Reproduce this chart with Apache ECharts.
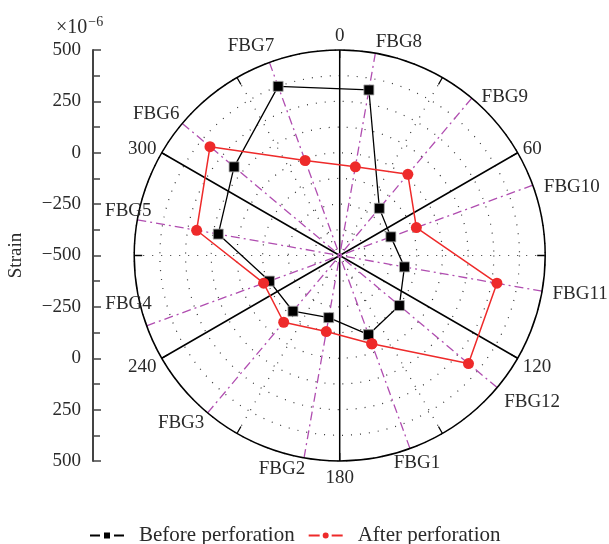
<!DOCTYPE html>
<html>
<head>
<meta charset="utf-8">
<script src="https://cdn.jsdelivr.net/npm/echarts@6/dist/echarts.min.js"></script>
<style>html,body{margin:0;padding:0;background:#fff}#c{width:609px;height:544px}</style>
</head>
<body>
<div id="c"></div>
<script>
// ---- data ----
var categories = ['FBG1','FBG2','FBG3','FBG4','FBG5','FBG6','FBG7','FBG8','FBG9','FBG10','FBG11','FBG12'];
var fbgAngles  = [160, 190, 220, 250, 280, 310, 340, 10, 40, 70, 100, 130];
var beforeValues = [-90, -193, -146, -136, 100, 171, 376, 318, -200, -235, -180, -121];
var afterValues  = [-43, -124, -76, -106, 207, 324, -8, -62, 16, -103, 277, 318];
var strainTicks = [-1000, -750, -500, -250, 0, 250, 500, 750, 1000];
var angleTicks = [0, 60, 120, 180, 240, 300];
var radiusRange = [-500, 500];

// ---- layout / style (not data) ----
var FONT = 'Liberation Serif';
var TXT = '#2a2a2a';
var CX = 339.7, CY = 255.5, R = 205.5;
// FBG label offsets [dx, dy] from the point where each FBG line meets the rim
var fbgLabelOffset = {
  FBG1: [7, 14.5], FBG2: [-22, 11], FBG3: [-26.5, 10], FBG4: [-18, -22], FBG5: [-9, -9], FBG6: [-26, -9.5],
  FBG7: [-18.5, -16.5], FBG8: [23.5, -11], FBG9: [33, -1], FBG10: [39, 2], FBG11: [38, 3], FBG12: [35, 14.5]
};
// per-angle-label line heights (to mimic the reference's label placement)
var angleLabelStyle = {0: 'n', 60: 'u', 300: 'u', 120: 'd', 240: 'd', 180: 'b'};

function polarData(vals) {
  var d = vals.map(function (v, i) { return [v, fbgAngles[i]]; });
  d.push([vals[0], fbgAngles[0]]);
  return d;
}
function fmtStrain(v) {
  var s = Math.abs(v) - 500;
  return s < 0 ? '\u2212' + Math.abs(s) : String(s);
}
var rimLabels = categories.map(function (name, i) {
  return {
    name: name,
    value: [radiusRange[1], fbgAngles[i]],
    label: {offset: fbgLabelOffset[name]}
  };
});
var angleRich = {
  n: {fontFamily: FONT, fontSize: 19, color: TXT, lineHeight: 16},
  u: {fontFamily: FONT, fontSize: 19, color: TXT, lineHeight: 2},
  d: {fontFamily: FONT, fontSize: 19, color: TXT, lineHeight: 12},
  b: {fontFamily: FONT, fontSize: 19, color: TXT, lineHeight: 22}
};

var chart = echarts.init(document.getElementById('c'), null, {renderer: 'canvas'});
chart.setOption({
  animation: false,
  backgroundColor: '#fff',
  title: {
    text: '{a|\u00d710}{b|\u22126}',
    left: 51, top: 10,
    textStyle: {
      fontWeight: 'normal',
      rich: {
        a: {fontFamily: FONT, fontSize: 20, color: TXT, fontWeight: 'normal'},
        b: {fontFamily: FONT, fontSize: 14, color: TXT, fontWeight: 'normal', padding: [0, 0, 11, 1]}
      }
    }
  },
  grid: {left: 93, top: 50, height: 411, width: 10},
  xAxis: {type: 'value', show: false},
  yAxis: {
    type: 'value', min: strainTicks[0], max: strainTicks[strainTicks.length - 1], interval: 250,
    axisLine: {show: true, lineStyle: {color: '#444', width: 2}},
    axisTick: {show: true, inside: true, length: 8, lineStyle: {color: '#444', width: 1.5}},
    minorTick: {show: true, splitNumber: 2, length: 7, lineStyle: {color: '#444', width: 1.5}},
    splitLine: {show: false},
    axisLabel: {formatter: fmtStrain, fontFamily: FONT, fontSize: 19, color: TXT, margin: 12},
    name: 'Strain', nameLocation: 'middle', nameGap: 67, nameRotate: 90,
    nameTextStyle: {fontFamily: FONT, fontSize: 19, color: TXT}
  },
  polar: [
    {center: [CX, CY], radius: R},
    {center: [CX, CY], radius: R}
  ],
  angleAxis: [
    {
      polarIndex: 0, type: 'value', min: 0, max: 360, interval: 60, startAngle: 90, clockwise: true,
      axisLine: {show: true, lineStyle: {color: '#000', width: 1.5}},
      axisTick: {show: true, inside: true, length: 8, lineStyle: {color: '#000', width: 1.3}},
      minorTick: {show: true, splitNumber: 2, length: 8, lineStyle: {color: '#000', width: 1.3}},
      axisLabel: {
        formatter: function (v) {
          if (angleTicks.indexOf(v) < 0) return '';
          return '{' + angleLabelStyle[v] + '|' + v + '}';
        },
        rich: angleRich,
        fontFamily: FONT, fontSize: 19, color: TXT, margin: 6
      },
      splitLine: {show: true, lineStyle: {color: '#000', width: 1.5}},
      minorSplitLine: {show: true, lineStyle: {color: '#333', width: 1.2, type: [1, 8]}}
    },
    {
      polarIndex: 1, type: 'value', min: 0, max: 360, interval: 30,
      startAngle: 90 - Math.min.apply(null, fbgAngles), clockwise: true,
      axisLine: {show: false}, axisTick: {show: false}, axisLabel: {show: false},
      splitLine: {show: true, lineStyle: {color: '#b04db0', width: 1.3, type: [9, 4, 2, 4]}}
    }
  ],
  radiusAxis: [
    {
      polarIndex: 0, type: 'value', min: radiusRange[0], max: radiusRange[1], interval: 125,
      axisLine: {show: false}, axisTick: {show: false}, axisLabel: {show: false},
      splitLine: {show: true, lineStyle: {color: '#333', width: 1.2, type: [1, 8]}}
    },
    {
      polarIndex: 1, type: 'value', min: radiusRange[0], max: radiusRange[1],
      axisLine: {show: false}, axisTick: {show: false}, axisLabel: {show: false},
      splitLine: {show: false}
    }
  ],
  legend: {
    top: 520, left: 85, itemWidth: 34, itemHeight: 6, itemGap: 14,
    itemStyle: {borderWidth: 0},
    textStyle: {fontFamily: FONT, fontSize: 21, color: TXT, padding: [0, 0, 0, 10]},
    data: [
      {name: 'Before perforation', icon: 'path://M0,2h10v2h-10z M14,0h6v6h-6z M24,2h10v2h-10z'},
      {name: 'After perforation', icon: 'path://M0,2h11v2h-11z M14,3a3,3 0 1,0 6,0a3,3 0 1,0 -6,0z M23,2h11v2h-11z'}
    ]
  },
  series: [
    {
      name: 'Before perforation', type: 'line', coordinateSystem: 'polar', polarIndex: 0,
      data: polarData(beforeValues),
      symbol: 'rect', symbolSize: 10,
      lineStyle: {color: '#000', width: 1.3},
      itemStyle: {color: '#000', borderColor: '#aaa', borderWidth: 0.8},
      z: 5
    },
    {
      name: 'After perforation', type: 'line', coordinateSystem: 'polar', polarIndex: 0,
      data: polarData(afterValues),
      symbol: 'circle', symbolSize: 11,
      lineStyle: {color: '#ee2a2a', width: 1.5},
      itemStyle: {color: '#ee2a2a'},
      z: 6
    },
    {
      name: 'FBG labels', type: 'scatter', coordinateSystem: 'polar', polarIndex: 0,
      data: rimLabels, symbolSize: 0, silent: true,
      itemStyle: {opacity: 1},
      label: {
        show: true, position: 'inside', formatter: '{b}',
        align: 'center', verticalAlign: 'middle',
        fontFamily: FONT, fontSize: 19, color: TXT, opacity: 1
      },
      z: 7
    }
  ]
});
</script>
</body>
</html>
